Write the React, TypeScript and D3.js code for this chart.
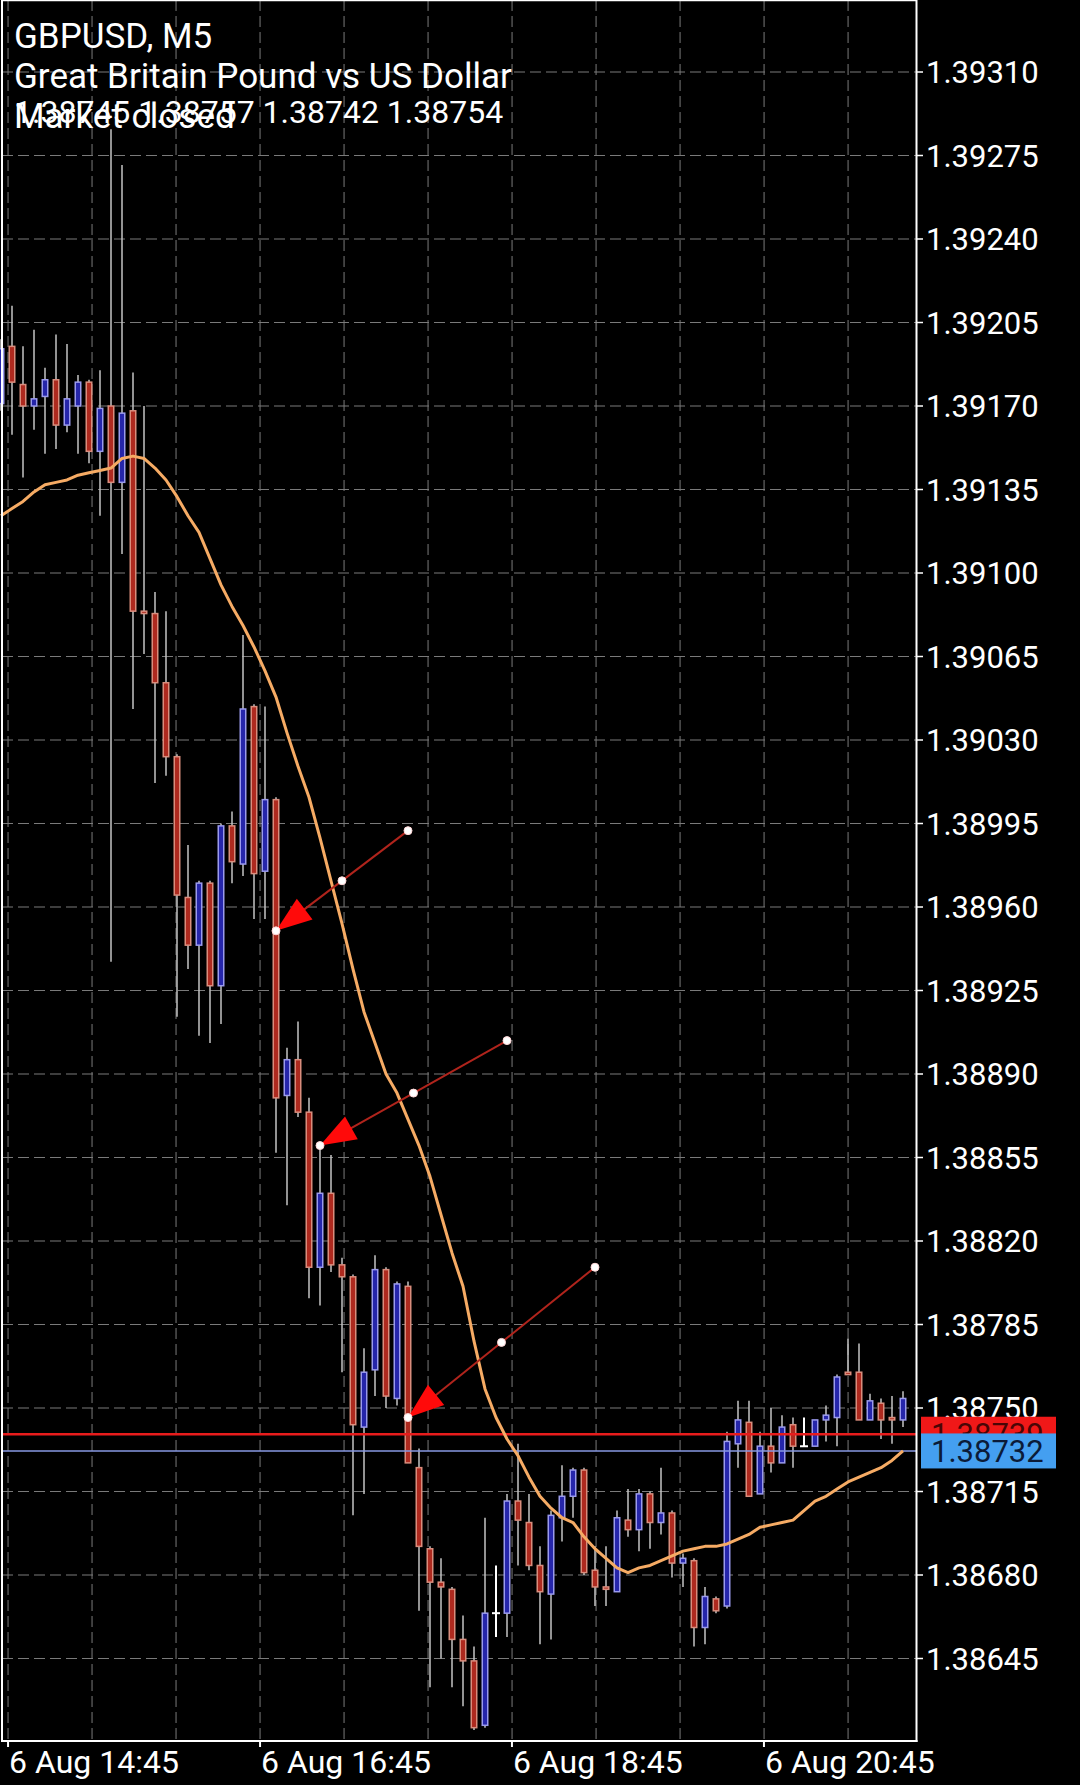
import React from 'react';
import * as d3 from 'd3';

// ---------- header texts ----------
const symbolTitle = 'GBPUSD, M5';
const symbolDesc = 'Great Britain Pound vs US Dollar';
const ohlcText = '1.38745 1.38757 1.38742 1.38754';
const statusText = 'Market closed';

// ---------- candles (bar index starts at firstBar) ----------
const firstBar = -1;
const opens = [
  1.39171, 1.39195, 1.39179, 1.39170, 1.39174, 1.39181, 1.39162, 1.39170, 1.39180, 1.39151,
  1.39170, 1.39138, 1.39168, 1.39084, 1.39083, 1.39054, 1.39023, 1.38964, 1.38944, 1.38970,
  1.38927, 1.38994, 1.38978, 1.39044, 1.38975, 1.39005, 1.38881, 1.38896, 1.38874, 1.38809,
  1.38840, 1.38810, 1.38805, 1.38742, 1.38766, 1.38808, 1.38754, 1.38801, 1.38725, 1.38691,
  1.38677, 1.38674, 1.38653, 1.38644, 1.38617, 1.38664, 1.38664, 1.38711, 1.38702, 1.38684,
  1.38672, 1.38704, 1.38713, 1.38724, 1.38682, 1.38675, 1.38673, 1.38703, 1.38699, 1.38714,
  1.38702, 1.38706, 1.38685, 1.38686, 1.38658, 1.38670, 1.38667, 1.38735, 1.38744, 1.38714,
  1.38734, 1.38727, 1.38743, 1.38734, 1.38734, 1.38745, 1.38746, 1.38765, 1.38765, 1.38745,
  1.38752, 1.38746, 1.38745,
];
const highs = [
  1.39198, 1.39212, 1.39195, 1.39202, 1.39186, 1.39200, 1.39196, 1.39183, 1.39181, 1.39185,
  1.39286, 1.39271, 1.39184, 1.39170, 1.39092, 1.39084, 1.39024, 1.38986, 1.38971, 1.38971,
  1.38995, 1.39000, 1.39074, 1.39045, 1.39044, 1.39006, 1.38901, 1.38912, 1.38880, 1.38859,
  1.38856, 1.38813, 1.38806, 1.38775, 1.38814, 1.38809, 1.38803, 1.38803, 1.38733, 1.38692,
  1.38687, 1.38675, 1.38663, 1.38650, 1.38704, 1.38684, 1.38714, 1.38735, 1.38714, 1.38692,
  1.38707, 1.38726, 1.38725, 1.38725, 1.38692, 1.38692, 1.38707, 1.38716, 1.38716, 1.38715,
  1.38725, 1.38707, 1.38689, 1.38687, 1.38675, 1.38671, 1.38740, 1.38753, 1.38753, 1.38740,
  1.38750, 1.38747, 1.38746, 1.38746, 1.38745, 1.38751, 1.38764, 1.38779, 1.38777, 1.38756,
  1.38754, 1.38755, 1.38757,
];
const lows = [
  1.39168, 1.39158, 1.39140, 1.39160, 1.39150, 1.39152, 1.39159, 1.39150, 1.39146, 1.39124,
  1.38937, 1.39108, 1.39043, 1.39066, 1.39012, 1.39015, 1.38914, 1.38934, 1.38906, 1.38903,
  1.38911, 1.38970, 1.38973, 1.38955, 1.38955, 1.38857, 1.38835, 1.38872, 1.38796, 1.38793,
  1.38807, 1.38765, 1.38705, 1.38714, 1.38755, 1.38750, 1.38751, 1.38727, 1.38665, 1.38633,
  1.38645, 1.38633, 1.38625, 1.38615, 1.38616, 1.38654, 1.38654, 1.38684, 1.38682, 1.38651,
  1.38653, 1.38694, 1.38704, 1.38680, 1.38667, 1.38667, 1.38673, 1.38696, 1.38690, 1.38691,
  1.38697, 1.38679, 1.38675, 1.38650, 1.38651, 1.38664, 1.38666, 1.38725, 1.38713, 1.38714,
  1.38723, 1.38727, 1.38725, 1.38734, 1.38734, 1.38736, 1.38734, 1.38764, 1.38745, 1.38745,
  1.38737, 1.38735, 1.38742,
];
const closes = [
  1.39194, 1.39180, 1.39170, 1.39173, 1.39181, 1.39162, 1.39173, 1.39180, 1.39151, 1.39169,
  1.39138, 1.39167, 1.39084, 1.39083, 1.39054, 1.39023, 1.38965, 1.38944, 1.38970, 1.38927,
  1.38994, 1.38979, 1.39043, 1.38974, 1.39005, 1.38880, 1.38896, 1.38874, 1.38809, 1.38840,
  1.38810, 1.38805, 1.38743, 1.38765, 1.38808, 1.38755, 1.38802, 1.38727, 1.38692, 1.38677,
  1.38675, 1.38653, 1.38644, 1.38616, 1.38664, 1.38664, 1.38711, 1.38703, 1.38684, 1.38673,
  1.38705, 1.38713, 1.38724, 1.38681, 1.38675, 1.38674, 1.38704, 1.38699, 1.38714, 1.38702,
  1.38706, 1.38685, 1.38687, 1.38658, 1.38671, 1.38665, 1.38736, 1.38745, 1.38713, 1.38734,
  1.38727, 1.38742, 1.38734, 1.38734, 1.38745, 1.38747, 1.38763, 1.38764, 1.38745, 1.38753,
  1.38745, 1.38745, 1.38754,
];

// ---------- moving average (read per bar) ----------
const maValues = [
  1.39124, 1.39127, 1.39130, 1.39134, 1.39137, 1.39138, 1.39139, 1.39141, 1.39142, 1.39143,
  1.39144, 1.39148, 1.39149, 1.39148, 1.39144, 1.39139, 1.39132, 1.39124, 1.39117, 1.39106,
  1.39095, 1.39086, 1.39078, 1.39069, 1.39059, 1.39048, 1.39033, 1.39019, 1.39006, 1.38989,
  1.38971, 1.38953, 1.38934, 1.38916, 1.38903, 1.38890, 1.38882, 1.38871, 1.38860, 1.38847,
  1.38831, 1.38815, 1.38801, 1.38778, 1.38758, 1.38746, 1.38737, 1.38730, 1.38721, 1.38713,
  1.38708, 1.38704, 1.38702, 1.38696, 1.38691, 1.38687, 1.38683, 1.38681, 1.38683, 1.38684,
  1.38686, 1.38688, 1.38690, 1.38691, 1.38692, 1.38692, 1.38693, 1.38695, 1.38697, 1.38700,
  1.38701, 1.38702, 1.38703, 1.38707, 1.38711, 1.38713, 1.38716, 1.38719, 1.38721, 1.38723,
  1.38725, 1.38728, 1.38732,
];

// ---------- axes ----------
const priceTicks = [
  1.39310, 1.39275, 1.39240, 1.39205, 1.39170, 1.39135, 1.39100, 1.39065, 1.39030, 1.38995,
  1.38960, 1.38925, 1.38890, 1.38855, 1.38820, 1.38785, 1.38750, 1.38715, 1.38680, 1.38645,
];
const timeTickBars = [-0.36, 22.55, 45.45, 68.36];
const timeTickLabels = ['6 Aug 14:45', '6 Aug 16:45', '6 Aug 18:45', '6 Aug 20:45'];

// ---------- price lines ----------
const askPrice = 1.38739;
const bidPrice = 1.38732;

// ---------- arrowed lines ----------
const arrowFromBar = [36, 45, 53];
const arrowFromPrice = [1.38992, 1.38904, 1.38809];
const arrowToBar = [24, 28, 36];
const arrowToPrice = [1.38950, 1.38860, 1.38746];

const FONT = 'Roboto, "Noto Sans", sans-serif';

export default function App() {
  const width = 1080;
  const height = 1785;
  const plotRight = 916.5;
  const plotBottom = 1741;

  const x = d3.scaleLinear().domain([0, 81]).range([12, 903]);
  const y = d3.scaleLinear().domain([1.38645, 1.3931]).range([1658.5, 72]);

  const tickStep = (timeTickBars[1] - timeTickBars[0]) / 3;
  const gridBars = d3.range(11).map((k) => timeTickBars[0] + k * tickStep);

  const maLine = d3
    .line<number>()
    .x((_, k) => x(firstBar + k))
    .y((v) => y(v))(maValues) || '';

  const fmt = d3.format('.5f');

  return (
    <svg
      width={width}
      height={height}
      style={{ position: 'absolute', left: 0, top: 0, display: 'block', background: '#000' }}
      fontFamily={FONT}
    >
      <defs>
        <clipPath id="plotClip">
          <rect x={0} y={0} width={plotRight} height={plotBottom} />
        </clipPath>
      </defs>
      <rect x={0} y={0} width={width} height={height} fill="#000" />

      {/* grid */}
      <g stroke="#7a7a7a" strokeWidth={1} strokeDasharray="11 5" clipPath="url(#plotClip)">
        {priceTicks.map((p) => (
          <line key={'h' + p} x1={2} x2={plotRight} y1={y(p)} y2={y(p)} />
        ))}
        {gridBars.map((b, k) => (
          <line key={'v' + k} x1={x(b)} x2={x(b)} y1={0} y2={plotBottom} />
        ))}
      </g>

      {/* candles */}
      <g clipPath="url(#plotClip)">
        {opens.map((o, k) => {
          const i = firstBar + k;
          const c = closes[k];
          const cx = x(i);
          if (o === c) {
            return (
              <g key={'c' + k} stroke="#ffffff" strokeWidth={2}>
                <line x1={cx} x2={cx} y1={y(highs[k])} y2={y(lows[k])} />
                <line x1={cx - 4} x2={cx + 4} y1={y(c)} y2={y(c)} />
              </g>
            );
          }
          const up = c > o;
          const top = y(Math.max(o, c));
          const bot = y(Math.min(o, c));
          return (
            <g key={'c' + k}>
              <line x1={cx} x2={cx} y1={y(highs[k])} y2={y(lows[k])} stroke="#c4c4c4" strokeWidth={1.5} />
              <rect
                x={cx - 2.75}
                y={top}
                width={5.5}
                height={Math.max(1.5, bot - top)}
                fill={up ? '#2626aa' : '#ae2a1f'}
                stroke={up ? '#9a9aec' : '#d98d7d'}
                strokeWidth={1.5}
              />
            </g>
          );
        })}
      </g>

      {/* price lines */}
      <line x1={2} x2={plotRight} y1={y(askPrice)} y2={y(askPrice)} stroke="#e81c1c" strokeWidth={2.5} />
      <line x1={2} x2={plotRight} y1={y(bidPrice)} y2={y(bidPrice)} stroke="#8799e2" strokeWidth={1.5} />

      {/* moving average */}
      <path d={maLine} fill="none" stroke="#f6ab64" strokeWidth={3} strokeLinejoin="round" clipPath="url(#plotClip)" />

      {/* arrowed lines */}
      {arrowFromBar.map((fb, k) => {
        const sx = x(fb);
        const sy = y(arrowFromPrice[k]);
        const tx = x(arrowToBar[k]);
        const ty = y(arrowToPrice[k]);
        const dx = sx - tx;
        const dy = sy - ty;
        const len = Math.hypot(dx, dy);
        const ux = dx / len;
        const uy = dy / len;
        const bx = tx + ux * 36;
        const by = ty + uy * 36;
        const nx = -uy;
        const ny = ux;
        const hw = 13;
        const pts = `${tx},${ty} ${bx + nx * hw},${by + ny * hw} ${bx - nx * hw},${by - ny * hw}`;
        const mx = (sx + tx) / 2;
        const my = (sy + ty) / 2;
        return (
          <g key={'a' + k}>
            <line x1={sx} y1={sy} x2={tx} y2={ty} stroke="#b0241c" strokeWidth={2} />
            <polygon points={pts} fill="#ff0a0a" />
            {[
              [sx, sy],
              [mx, my],
              [tx, ty],
            ].map(([px, py], j) => (
              <circle key={j} cx={px} cy={py} r={4} fill="#ffffff" stroke="#ffd6d6" strokeWidth={1} />
            ))}
          </g>
        );
      })}

      {/* frame */}
      <line x1={2} x2={2} y1={0} y2={plotBottom} stroke="#ffffff" strokeWidth={2} />
      <line x1={2} x2={plotRight} y1={0.5} y2={0.5} stroke="#ffffff" strokeWidth={1.5} />
      <line x1={plotRight} x2={plotRight} y1={0} y2={plotBottom + 1} stroke="#ffffff" strokeWidth={2} />
      <line x1={1} x2={plotRight + 1} y1={plotBottom} y2={plotBottom} stroke="#ffffff" strokeWidth={2} />

      {/* price axis */}
      {priceTicks.map((p) => (
        <g key={'t' + p}>
          <line x1={plotRight} x2={923} y1={y(p)} y2={y(p)} stroke="#ffffff" strokeWidth={1.5} />
          <text x={926} y={y(p)} dy="0.36em" fontSize={31} fill="#ffffff">
            {fmt(p)}
          </text>
        </g>
      ))}

      {/* current price boxes */}
      <rect x={921} y={y(askPrice) - 17.5} width={135} height={35} fill="#f01818" />
      <text x={931} y={y(askPrice)} dy="0.36em" fontSize={31} fill="#4a0606">
        {fmt(askPrice)}
      </text>
      <rect x={921} y={y(bidPrice) - 17.5} width={135} height={35} fill="#449ff0" />
      <text x={931} y={y(bidPrice)} dy="0.36em" fontSize={31} fill="#0b1b38">
        {fmt(bidPrice)}
      </text>

      {/* time axis */}
      {timeTickBars.map((b, k) => (
        <g key={'x' + k}>
          <line x1={x(b)} x2={x(b)} y1={plotBottom} y2={plotBottom + 6} stroke="#ffffff" strokeWidth={2} />
          <text x={x(b) + 1} y={1773} fontSize={32} fill="#ffffff">
            {timeTickLabels[k]}
          </text>
        </g>
      ))}

      {/* header */}
      <g fill="#ffffff">
        <text x={14} y={48} fontSize={35}>{symbolTitle}</text>
        <text x={14} y={88} fontSize={35}>{symbolDesc}</text>
        <text x={14} y={123} fontSize={32}>{ohlcText}</text>
        <text x={14} y={128} fontSize={35}>{statusText}</text>
      </g>
    </svg>
  );
}
